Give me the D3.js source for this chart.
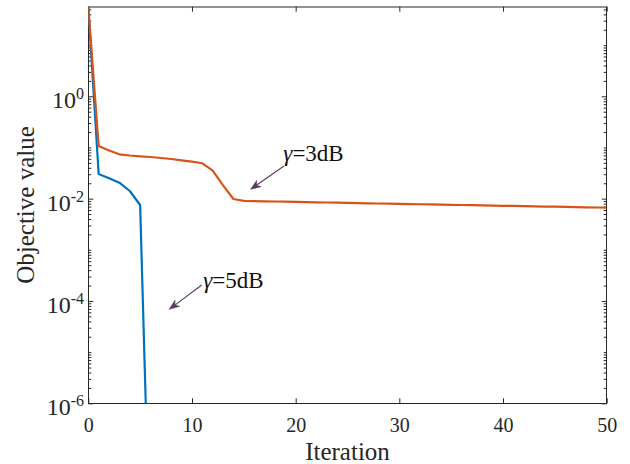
<!DOCTYPE html>
<html>
<head>
<meta charset="utf-8">
<script src="https://cdn.jsdelivr.net/npm/d3@7"></script>
<style>
  html, body { margin: 0; padding: 0; background: #fff; }
  svg { display: block; }
  svg text { font-family: "Liberation Serif", "Times New Roman", serif; }
</style>
</head>
<body>
<svg id="chart" width="630" height="464"></svg>
<script>
// ---- data ----
const iterations3dB = d3.range(0, 51);
const values3dB = [
  56.4, 0.107, 0.0873, 0.0735, 0.0697, 0.0672, 0.0651, 0.0622, 0.0595, 0.0561,
  0.0527, 0.0491, 0.0352, 0.0182, 0.00984, 0.00905, 0.00896, 0.00888, 0.00880, 0.00872,
  0.00864, 0.00856, 0.00848, 0.00840, 0.00832, 0.00825, 0.00818, 0.00811, 0.00804, 0.00797,
  0.00791, 0.00784, 0.00777, 0.00770, 0.00764, 0.00757, 0.00751, 0.00744, 0.00738, 0.00732,
  0.00725, 0.00719, 0.00713, 0.00707, 0.00701, 0.00695, 0.00689, 0.00683, 0.00677, 0.00671,
  0.00665
];
const iterations5dB = [0, 1, 2, 3, 4, 5, 6];
const values5dB = [56.4, 0.0303, 0.0250, 0.0205, 0.0141, 0.00751, 5.0e-10];

const xTicks = [0, 10, 20, 30, 40, 50];
const yLabelExponents = [0, -2, -4, -6];
const xDomain = [0, 50];
const yDomain = [1e-6, 56.4];

const annotations = [
  { label: "3dB", textAt: [18.81, 0.0551], tail: [18.87, 0.0434], tip: [15.66, 0.01523] },
  { label: "5dB", textAt: [11.09, 1.79e-4], tail: [10.94, 2.05e-4], tip: [7.81, 6.88e-5] }
];

// ---- layout ----
const L = 88.3, R = 606.7, T = 6.7, B = 403.3;
const svg = d3.select("#chart");
const serif = '"Liberation Serif", "Times New Roman", serif';

const x = d3.scaleLinear().domain(xDomain).range([L, R]);
const y = d3.scaleLog().domain(yDomain).range([B, T]);

const axisColor = "#262626";

svg.append("defs").append("clipPath").attr("id", "clip")
  .append("rect").attr("x", L).attr("y", T).attr("width", R - L).attr("height", B - T);

const majorY = yLabelExponents.map(e => Math.pow(10, e));
const allY = y.ticks(60).filter(v => v >= yDomain[0] * 0.999 && v <= yDomain[1]);
const minorY = allY.filter(v => !majorY.some(m => Math.abs(v / m - 1) < 1e-6));

function styleAxis(g) {
  g.attr("font-family", null).attr("font-size", null);
  g.select(".domain").remove();
  g.selectAll(".tick line").attr("stroke", axisColor).attr("stroke-width", 1);
}

// bottom
const gx = svg.append("g").attr("transform", `translate(0,${B})`)
  .call(d3.axisBottom(x).tickValues(xTicks).tickSize(-5).tickFormat(d3.format("d")));
styleAxis(gx);
gx.selectAll(".tick text")
  .attr("y", 28.4).attr("dy", null)
  .attr("fill", axisColor)
  .style("font-family", serif).style("font-size", "20px");
// top
const gxt = svg.append("g").attr("transform", `translate(0,${T})`)
  .call(d3.axisTop(x).tickValues(xTicks).tickSize(-5).tickFormat(""));
styleAxis(gxt);

// left
const gyl = svg.append("g").attr("transform", `translate(${L},0)`)
  .call(d3.axisLeft(y).tickValues(majorY).tickSize(-5).tickFormat(""));
styleAxis(gyl);
const gylm = svg.append("g").attr("transform", `translate(${L},0)`)
  .call(d3.axisLeft(y).tickValues(minorY).tickSize(-3).tickFormat(""));
styleAxis(gylm);
// right
const gyr = svg.append("g").attr("transform", `translate(${R},0)`)
  .call(d3.axisRight(y).tickValues(majorY).tickSize(-5).tickFormat(""));
styleAxis(gyr);
const gyrm = svg.append("g").attr("transform", `translate(${R},0)`)
  .call(d3.axisRight(y).tickValues(minorY).tickSize(-3).tickFormat(""));
styleAxis(gyrm);

// y tick labels 10^n
yLabelExponents.forEach(e => {
  const yy = y(Math.pow(10, e));
  const t = svg.append("text")
    .attr("x", 84).attr("y", yy + 12)
    .attr("text-anchor", "end")
    .attr("fill", axisColor)
    .style("font-size", "24px");
  t.append("tspan").text("10");
  t.append("tspan").style("font-size", "16px").attr("dy", -9).text(String(e));
});

// box
svg.append("line").attr("x1", L).attr("x2", R).attr("y1", 7).attr("y2", 7)
  .attr("stroke", axisColor).attr("stroke-width", 1);
svg.append("line").attr("x1", L).attr("x2", R).attr("y1", 403.5).attr("y2", 403.5)
  .attr("stroke", axisColor).attr("stroke-width", 1);
svg.append("line").attr("x1", 88.5).attr("x2", 88.5).attr("y1", T).attr("y2", B)
  .attr("stroke", axisColor).attr("stroke-width", 1);
svg.append("line").attr("x1", 606.5).attr("x2", 606.5).attr("y1", T).attr("y2", B)
  .attr("stroke", axisColor).attr("stroke-width", 1);

// lines
const line = d3.line().x(d => x(d[0])).y(d => y(d[1]));
const plot = svg.append("g").attr("clip-path", "url(#clip)");
plot.append("path")
  .datum(iterations5dB.map((it, i) => [it, values5dB[i]]))
  .attr("d", line).attr("fill", "none").attr("stroke", "#0072BD")
  .attr("stroke-width", 2.2).attr("stroke-linejoin", "round");
plot.append("path")
  .datum(iterations3dB.map((it, i) => [it, values3dB[i]]))
  .attr("d", line).attr("fill", "none").attr("stroke", "#D95319")
  .attr("stroke-width", 2.2).attr("stroke-linejoin", "round");

// annotations
const arrowColor = "#573a5f";
annotations.forEach(a => {
  const x1 = x(a.tail[0]), y1 = y(a.tail[1]);
  const x2 = x(a.tip[0]), y2 = y(a.tip[1]);
  const ang = Math.atan2(y2 - y1, x2 - x1);
  const hl = 10, hw = 3.8, back = 7;
  const ux = Math.cos(ang), uy = Math.sin(ang);
  const px = -uy, py = ux;
  svg.append("line")
    .attr("x1", x1).attr("y1", y1)
    .attr("x2", x2 - ux * back).attr("y2", y2 - uy * back)
    .attr("stroke", arrowColor).attr("stroke-width", 1.1);
  const pts = [
    [x2, y2],
    [x2 - ux * hl + px * hw, y2 - uy * hl + py * hw],
    [x2 - ux * back, y2 - uy * back],
    [x2 - ux * hl - px * hw, y2 - uy * hl - py * hw]
  ];
  svg.append("path").attr("d", "M" + pts.map(p => p.join(",")).join("L") + "Z")
    .attr("fill", arrowColor).attr("stroke", arrowColor).attr("stroke-width", 0.6);
  const t = svg.append("text")
    .attr("x", x(a.textAt[0])).attr("y", y(a.textAt[1]))
    .style("font-size", "23px").attr("fill", "#111");
  t.append("tspan").attr("font-style", "italic").text("γ");
  t.append("tspan").text("=" + a.label);
});

// axis labels
svg.append("text")
  .attr("x", (L + R) / 2).attr("y", 460)
  .attr("text-anchor", "middle").style("font-size", "25px").attr("fill", axisColor)
  .text("Iteration");
svg.append("text")
  .attr("transform", `translate(34,${(T + B) / 2}) rotate(-90)`)
  .attr("text-anchor", "middle").style("font-size", "25px").attr("fill", axisColor)
  .text("Objective value");
</script>
</body>
</html>
